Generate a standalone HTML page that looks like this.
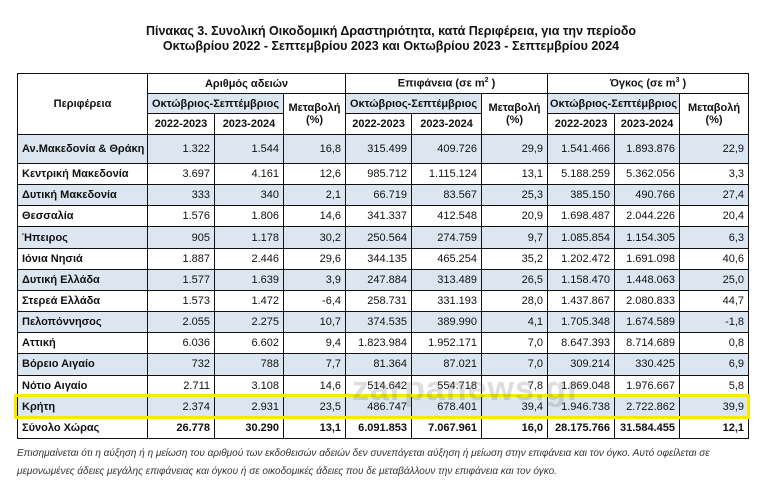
<!DOCTYPE html>
<html><head><meta charset="utf-8">
<style>
body{margin:0;width:782px;height:500px;background:#fff;position:relative;overflow:hidden;font-family:"Liberation Sans","DejaVu Sans",sans-serif;}
.title{position:absolute;left:0;width:782px;top:24px;text-align:center;font-weight:bold;font-size:12.5px;line-height:15px;color:#111;}
table{position:absolute;left:17px;top:73px;width:731px;border-collapse:collapse;table-layout:fixed;font-size:11px;color:#111;}
td{border:1.6px solid #111;padding:0 4px;white-space:nowrap;overflow:hidden;}
.h{font-weight:bold;text-align:center;padding:0;}
.b{background:#dce6f1;}
.n{text-align:right;}
.r{font-weight:bold;text-align:left;}
.tot td{font-weight:bold;}
.note{position:absolute;left:17px;top:445px;font-style:italic;font-size:10px;line-height:18px;color:#333;}
.yel{position:absolute;left:14px;top:394px;width:730px;height:19px;border:3px solid #f7ea00;}
.wm{position:absolute;left:352px;top:370px;font-size:34px;color:rgba(120,120,120,0.25);font-weight:bold;letter-spacing:1px;}
</style></head><body>
<div class="title">Πίνακας 3. Συνολική Οικοδομική Δραστηριότητα, κατά Περιφέρεια, για την περίοδο<br>Οκτωβρίου 2022 - Σεπτεμβρίου 2023 και Οκτωβρίου 2023 - Σεπτεμβρίου 2024</div>
<table id="t">
<colgroup><col style="width:130px"><col style="width:67px"><col style="width:69px"><col style="width:62px"><col style="width:66px"><col style="width:70px"><col style="width:66px"><col style="width:67px"><col style="width:65px"><col style="width:69px"></colgroup>
<tr style="height:20px"><td class="h" rowspan="3">Περιφέρεια</td><td class="h" colspan="3">Αριθμός αδειών</td><td class="h" colspan="3">Επιφάνεια (σε m<sup style="font-size:7px">2</sup> )</td><td class="h" colspan="3">Όγκος (σε m<sup style="font-size:7px">3</sup> )</td></tr>
<tr style="height:20px"><td class="h b" colspan="2">Οκτώβριος-Σεπτέμβριος</td><td class="h" rowspan="2">Μεταβολή<br>(%)</td><td class="h b" colspan="2">Οκτώβριος-Σεπτέμβριος</td><td class="h" rowspan="2">Μεταβολή<br>(%)</td><td class="h b" colspan="2">Οκτώβριος-Σεπτέμβριος</td><td class="h" rowspan="2">Μεταβολή<br>(%)</td></tr>
<tr style="height:21px"><td class="h">2022-2023</td><td class="h">2023-2024</td><td class="h">2022-2023</td><td class="h">2023-2024</td><td class="h">2022-2023</td><td class="h">2023-2024</td></tr>
</table>
<div class="yel"></div>
<div class="wm">zarpanews.gr</div>
<div class="note">Επισημαίνεται ότι η αύξηση ή η μείωση του αριθμού των εκδοθεισών αδειών δεν συνεπάγεται αύξηση ή μείωση στην επιφάνεια και τον όγκο. Αυτό οφείλεται σε<br>μεμονωμένες άδειες μεγάλης επιφάνειας και όγκου ή σε οικοδομικές άδειες που δε μεταβάλλουν την επιφάνεια και τον όγκο.</div>
<script>
const regions=["Αν.Μακεδονία & Θράκη","Κεντρική Μακεδονία","Δυτική Μακεδονία","Θεσσαλία","Ήπειρος","Ιόνια Νησιά","Δυτική Ελλάδα","Στερεά Ελλάδα","Πελοπόννησος","Αττική","Βόρειο Αιγαίο","Νότιο Αιγαίο","Κρήτη","Σύνολο Χώρας"];
const permits22=["1.322","3.697","333","1.576","905","1.887","1.577","1.573","2.055","6.036","732","2.711","2.374","26.778"];
const permits23=["1.544","4.161","340","1.806","1.178","2.446","1.639","1.472","2.275","6.602","788","3.108","2.931","30.290"];
const permitsChg=["16,8","12,6","2,1","14,6","30,2","29,6","3,9","-6,4","10,7","9,4","7,7","14,6","23,5","13,1"];
const surf22=["315.499","985.712","66.719","341.337","250.564","344.135","247.884","258.731","374.535","1.823.984","81.364","514.642","486.747","6.091.853"];
const surf23=["409.726","1.115.124","83.567","412.548","274.759","465.254","313.489","331.193","389.990","1.952.171","87.021","554.718","678.401","7.067.961"];
const surfChg=["29,9","13,1","25,3","20,9","9,7","35,2","26,5","28,0","4,1","7,0","7,0","7,8","39,4","16,0"];
const vol22=["1.541.466","5.188.259","385.150","1.698.487","1.085.854","1.202.472","1.158.470","1.437.867","1.705.348","8.647.393","309.214","1.869.048","1.946.738","28.175.766"];
const vol23=["1.893.876","5.362.056","490.766","2.044.226","1.154.305","1.691.098","1.448.063","2.080.833","1.674.589","8.714.689","330.425","1.976.667","2.722.862","31.584.455"];
const volChg=["22,9","3,3","27,4","20,4","6,3","40,6","25,0","44,7","-1,8","0,8","6,9","5,8","39,9","12,1"];
const t=document.getElementById('t');
regions.forEach((r,i)=>{
  const tr=document.createElement('tr');
  
  
  tr.style.height=(i===0?29:(i===13?21:21.17))+'px';
  if(i%2===0&&i<13)tr.className='b';
  if(i===13)tr.className='tot';
  const vals=[r,permits22[i],permits23[i],permitsChg[i],surf22[i],surf23[i],surfChg[i],vol22[i],vol23[i],volChg[i]];
  vals.forEach((v,j)=>{
    const td=document.createElement('td');
    
    
    td.className=j===0?'r':'n';
    td.textContent=v;
    tr.appendChild(td);
  });
  t.appendChild(tr);
});
</script>
</body></html>
